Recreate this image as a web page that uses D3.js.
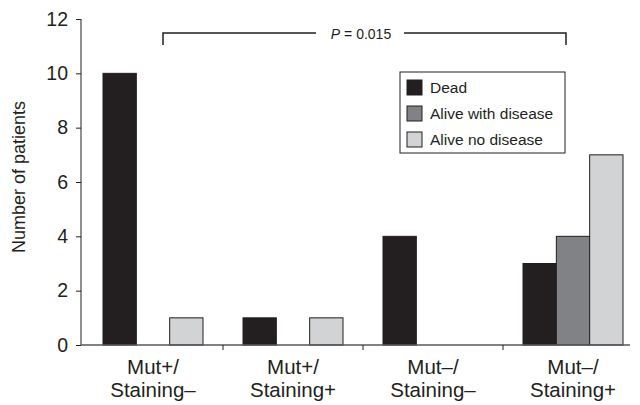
<!DOCTYPE html>
<html>
<head>
<meta charset="utf-8">
<script src="https://cdn.jsdelivr.net/npm/d3@7"></script>
<style>
  body { margin: 0; background: #fff; }
  text { font-family: "Liberation Sans", Arial, sans-serif; fill: #231f20; }
</style>
</head>
<body>
<div id="chart"></div>
<script>
// data
const groups = ["Mut+/\nStaining\u2013", "Mut+/\nStaining+", "Mut\u2013/\nStaining\u2013", "Mut\u2013/\nStaining+"];
const outcomes = ["Dead", "Alive with disease", "Alive no disease"];
const dead = [10, 1, 4, 3];
const aliveWithDisease = [0, 0, 0, 4];
const aliveNoDisease = [1, 1, 0, 7];
const yTicks = [0, 2, 4, 6, 8, 10, 12];
const colors = ["#231f20", "#808285", "#d1d3d4"];

const width = 640, height = 405;

const svg = d3.select("#chart").append("svg")
    .attr("width", width)
    .attr("height", height);

// scales
const x = d3.scaleBand().domain(groups).range([83, 643]);
const xSub = d3.scaleBand().domain(outcomes).range([20, 120]);
const y = d3.scaleLinear().domain([0, 12]).range([345, 19]);

const rows = groups.map((g, i) => ({
    group: g,
    values: [dead[i], aliveWithDisease[i], aliveNoDisease[i]]
}));

// bars
const groupG = svg.selectAll(".grp")
    .data(rows)
    .enter().append("g")
    .attr("transform", d => `translate(${x(d.group)},0)`);

groupG.selectAll("rect")
    .data(d => d.values.map((v, k) => ({ key: outcomes[k], value: v, k: k })).filter(e => e.value > 0))
    .enter().append("rect")
    .attr("x", d => xSub(d.key))
    .attr("y", d => y(d.value))
    .attr("width", xSub.bandwidth())
    .attr("height", d => y(0) - y(d.value))
    .attr("fill", d => colors[d.k])
    .attr("stroke", "#231f20")
    .attr("stroke-width", 1);

// y axis
const yAxis = svg.append("g")
    .attr("transform", "translate(81,0)")
    .call(d3.axisLeft(y).tickValues(yTicks).tickSize(5).tickPadding(8));
yAxis.select(".domain").attr("stroke", "#231f20").attr("d", `M0,${y(12)}V${y(0)}`);
yAxis.selectAll(".tick line").attr("stroke", "#231f20");
yAxis.selectAll(".tick text").style("font-size", "19.5px").attr("fill", "#231f20");

// x axis line with separator ticks
svg.append("line")
    .attr("x1", 81).attr("x2", 630)
    .attr("y1", y(0)).attr("y2", y(0))
    .attr("stroke", "#58595b").attr("stroke-width", 1.5);

svg.selectAll(".sep")
    .data(groups.slice(1))
    .enter().append("line")
    .attr("x1", d => x(d)).attr("x2", d => x(d))
    .attr("y1", y(0)).attr("y2", y(0) + 5)
    .attr("stroke", "#231f20");

// category labels
svg.selectAll(".cat")
    .data(groups)
    .enter().append("text")
    .attr("text-anchor", "middle")
    .style("font-size", "20.5px")
    .each(function(d) {
        const parts = d.split("\n");
        d3.select(this).selectAll("tspan")
            .data(parts)
            .enter().append("tspan")
            .attr("x", x(d) + x.bandwidth() / 2)
            .attr("y", (p, i) => 374 + i * 23)
            .text(p => p);
    });

// y label
svg.append("text")
    .attr("transform", "rotate(-90)")
    .attr("x", -177)
    .attr("y", 25)
    .attr("text-anchor", "middle")
    .style("font-size", "18px")
    .text("Number of patients");

// significance bracket
const bx1 = x(groups[0]) + 80, bx2 = x(groups[3]) + 63;
const by = 33;
svg.append("path")
    .attr("d", `M${bx1},${by + 12}V${by}H316 M404,${by}H${bx2}V${by + 12}`)
    .attr("fill", "none")
    .attr("stroke", "#231f20")
    .attr("stroke-width", 1.5);

const pText = svg.append("text")
    .attr("x", 361)
    .attr("y", 39)
    .attr("text-anchor", "middle")
    .style("font-size", "14px");
pText.append("tspan").style("font-style", "italic").text("P");
pText.append("tspan").text(" = 0.015");

// legend
const legend = svg.append("g").attr("transform", "translate(400,72)");
legend.append("rect")
    .attr("width", 165).attr("height", 81)
    .attr("fill", "#fff")
    .attr("stroke", "#231f20");

const item = legend.selectAll(".item")
    .data(outcomes)
    .enter().append("g")
    .attr("transform", (d, i) => `translate(7,${15.5 + i * 26})`);

item.append("rect")
    .attr("y", -7.5)
    .attr("width", 15).attr("height", 15)
    .attr("fill", (d, i) => colors[i])
    .attr("stroke", "#231f20");

item.append("text")
    .attr("x", 23)
    .attr("y", 5.5)
    .style("font-size", "15.5px")
    .text(d => d);
</script>
</body>
</html>
